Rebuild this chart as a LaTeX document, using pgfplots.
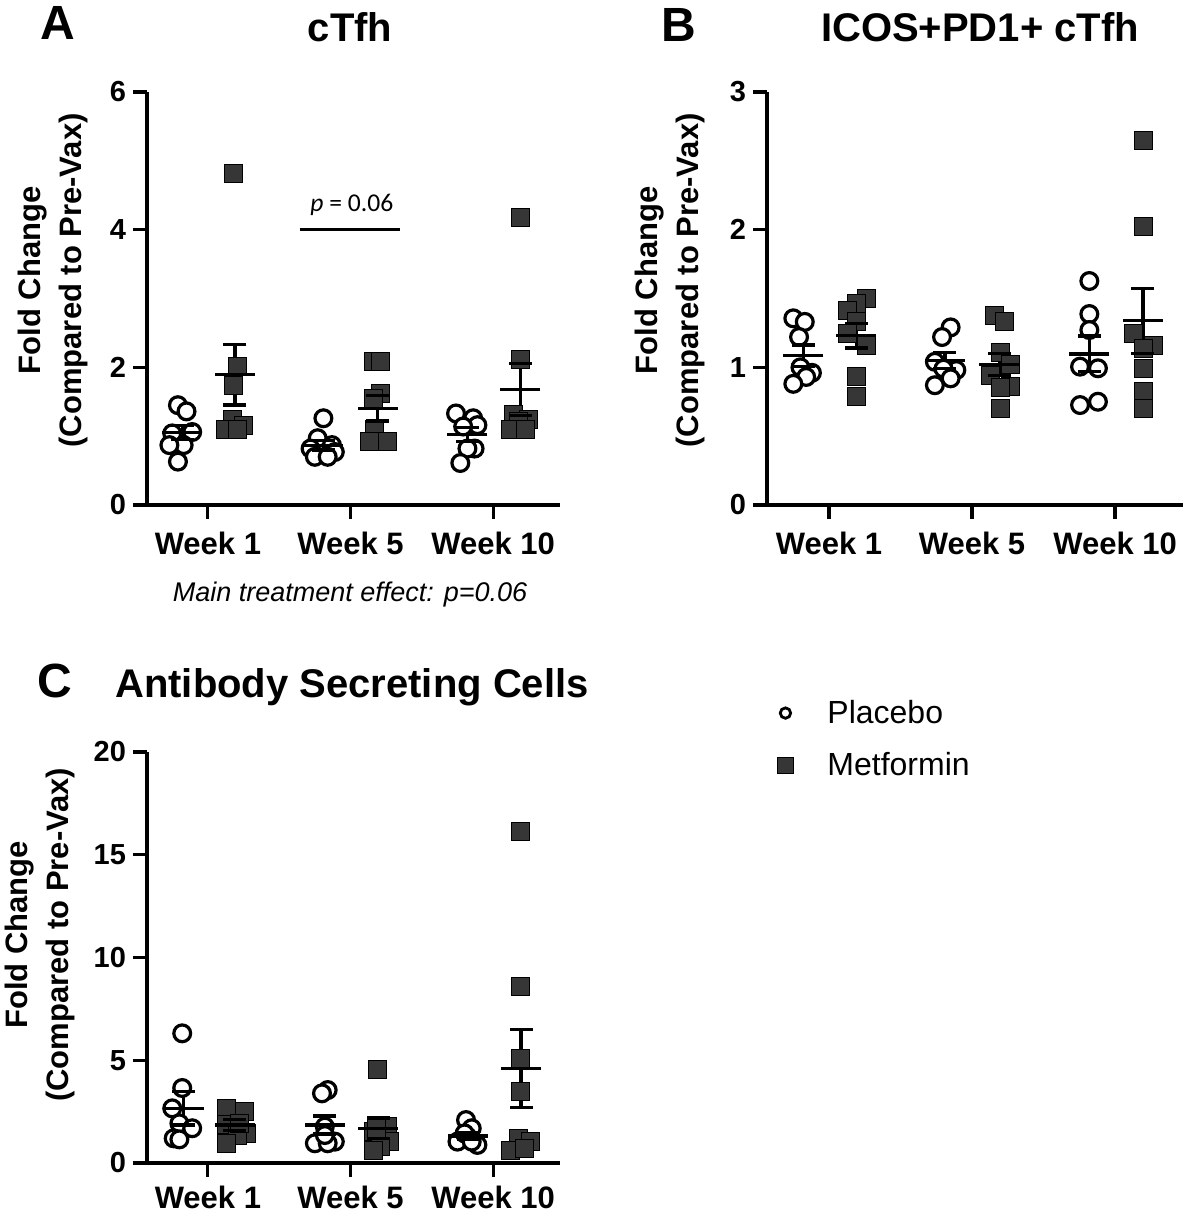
\documentclass[border=0pt]{standalone}
\usepackage{pgfplots}
\pgfplotsset{compat=1.18}
\usepackage{fontspec}
\setmainfont{Liberation Sans}
\newfontfamily\carlito{Carlito}
\definecolor{mgray}{HTML}{363636}
\pgfplotsset{
 prism/.style={
  scale only axis, axis lines*=left,
  axis line style={line width=1.6pt, black},
  tick align=outside, major tick length=7pt,
  major tick style={line width=1.6pt, black},
  xtick={0,1,2}, xticklabels={Week 1,Week 5,Week 10},
  xticklabel style={font=\fontsize{15.5}{18}\selectfont\bfseries, yshift=-3pt},
  yticklabel style={font=\fontsize{14.5}{17}\selectfont\bfseries},
  /pgf/number format/assume math mode=true,
  clip=false,
  ylabel={Fold Change\\(Compared to Pre-Vax)},
  ylabel style={font=\fontsize{15.5}{20.5}\selectfont\bfseries, align=center},
 },
 plac/.style={only marks, mark=*, mark size=4.2pt, mark options={line width=1.6pt, draw=black, fill=white}},
 metf/.style={only marks, mark=square*, mark size=4.5pt, mark options={line width=0.5pt, draw=black, fill=mgray}},
 msem/.style={only marks, mark=-, mark size=10pt, mark options={line width=1.6pt, draw=black},
   error bars/y dir=both, error bars/y explicit, error bars/error mark=none,
   error bars/error bar style={line width=1.6pt, black}},
 caps/.style={only marks, mark=-, mark size=5.75pt, mark options={line width=1.6pt, draw=black}},
}
\begin{document}
\begin{tikzpicture}
\useasboundingbox (0,0) rectangle (591.5pt,607pt);
% ---------- Panel A ----------
\begin{axis}[prism, at={(73.5pt,354.5pt)}, anchor=south west,
  width=206.5pt, height=206.5pt,
  xmin=-0.427, xmax=2.469, ymin=0, ymax=6, ytick={0,2,4,6},
  ylabel style={at={(axis description cs:-0.228,0.544)}, anchor=center}]
\addplot[plac] coordinates {(-0.21,1.45) (-0.15,1.36) (-0.11,1.06) (-0.25,1.04) (-0.17,0.87) (-0.27,0.87) (-0.21,0.63)
 (0.81,1.26) (0.77,0.97) (0.87,0.87) (0.72,0.82) (0.89,0.77) (0.75,0.70) (0.84,0.70)
 (1.74,1.33) (1.86,1.26) (1.89,1.16) (1.79,1.14) (1.87,0.82) (1.82,0.82) (1.77,0.61)};
\addplot[metf] coordinates {(0.18,4.82) (0.21,2.01) (0.18,1.74) (0.17,1.24) (0.25,1.16) (0.12,1.09) (0.21,1.09)
 (1.16,2.08) (1.21,2.08) (1.21,1.62) (1.16,1.55) (1.17,1.09) (1.13,0.92) (1.26,0.92)
 (2.19,4.18) (2.19,2.11) (2.14,1.31) (2.25,1.24) (2.18,1.21) (2.12,1.09) (2.23,1.09)};
\addplot[msem] coordinates {(-0.18,1.05) +- (0,0.10) (0.81,0.87) +- (0,0.07) (1.82,1.02) +- (0,0.10)};
\addplot[caps] coordinates {(-0.18,0.95) (-0.18,1.15) (0.81,0.80) (0.81,0.94) (1.82,0.92) (1.82,1.12)};
\addplot[msem] coordinates {(0.19,1.89) +- (0,0.436) (1.19,1.405) +- (0,0.185) (2.19,1.68) +- (0,0.38)};
\addplot[caps] coordinates {(0.19,1.454) (0.19,2.326) (1.19,1.22) (1.19,1.59) (2.19,1.30) (2.19,2.06)};
\draw[line width=1.5pt] (axis cs:0.644,4) -- (axis cs:1.35,4);
\node[anchor=base, font=\carlito\fontsize{12.8}{15}\selectfont] at (axis cs:1.01,4.26) {\textit{p} = 0.06};
\end{axis}
% ---------- Panel B ----------
\begin{axis}[prism, at={(383.5pt,354.5pt)}, anchor=south west,
  width=208pt, height=206.5pt,
  xmin=-0.434, xmax=2.475, ymin=0, ymax=3, ytick={0,1,2,3},
  ylabel style={at={(axis description cs:-0.233,0.544)}, anchor=center}]
\addplot[plac] coordinates {(-0.25,1.356) (-0.17,1.33) (-0.21,1.22) (-0.20,1.00) (-0.12,0.96) (-0.16,0.93) (-0.25,0.88)
 (0.85,1.29) (0.79,1.22) (0.74,1.04) (0.89,0.98) (0.80,0.99) (0.85,0.92) (0.74,0.87)
 (1.82,1.627) (1.82,1.387) (1.82,1.271) (1.755,1.005) (1.88,0.993) (1.755,0.726) (1.88,0.75)};
\addplot[metf] coordinates {(0.26,1.50) (0.19,1.465) (0.13,1.416) (0.19,1.33) (0.13,1.247) (0.26,1.162) (0.19,0.93) (0.19,0.787)
 (1.16,1.38) (1.23,1.33) (1.20,1.11) (1.27,1.02) (1.13,0.944) (1.27,0.86) (1.20,0.85) (1.20,0.70)
 (2.20,2.651) (2.20,2.022) (2.13,1.247) (2.27,1.155) (2.20,1.138) (2.20,0.993) (2.20,0.823) (2.20,0.702)};
\addplot[msem] coordinates {(-0.18,1.084) +- (0,0.078) (0.81,1.05) +- (0,0.06) (1.82,1.097) +- (0,0.13)};
\addplot[caps] coordinates {(-0.18,1.006) (-0.18,1.162) (0.81,0.99) (0.81,1.11) (1.82,0.967) (1.82,1.227)};
\addplot[msem] coordinates {(0.19,1.23) +- (0,0.09) (1.19,1.02) +- (0,0.08) (2.195,1.339) +- (0,0.236)};
\addplot[caps] coordinates {(0.19,1.14) (0.19,1.32) (1.19,0.94) (1.19,1.10) (2.195,1.103) (2.195,1.575)};
\end{axis}
% ---------- Panel C ----------
\begin{axis}[prism, at={(73.5pt,25.5pt)}, anchor=south west,
  width=206.5pt, height=205.5pt,
  xmin=-0.427, xmax=2.469, ymin=0, ymax=20, ytick={0,5,10,15,20},
  xticklabel style={yshift=2pt},
  ylabel style={at={(axis description cs:-0.259,0.555)}, anchor=center},
  legend style={draw=none, fill=none, at={(axis description cs:1.511,1.147)}, anchor=north west,
    font=\fontsize{16}{19}\selectfont, row sep=9pt},
  legend cell align=left]
\addlegendimage{legend image code/.code={\path[draw=none, fill=none] (-4pt,0pt) -- (19pt,0pt);
   \draw plot[only marks, mark=*, mark size=2.6pt, mark options={line width=1.4pt, draw=black, fill=white}] coordinates {(0pt,0pt)};}}
\addlegendimage{legend image code/.code={\path[draw=none, fill=none] (-4pt,0pt) -- (19pt,0pt);
   \draw plot[only marks, mark=square*, mark size=4pt, mark options={line width=0.5pt, draw=black, fill=mgray}] coordinates {(0pt,0pt)};}}
\addplot[forget plot, plac] coordinates {(-0.18,6.31) (-0.18,3.65) (-0.25,2.66) (-0.20,1.93) (-0.11,1.69) (-0.24,1.20) (-0.20,1.15)
 (0.84,3.55) (0.80,3.39) (0.82,1.77) (0.75,0.96) (0.89,1.04) (0.84,0.96) (0.82,1.36)
 (1.81,2.09) (1.85,1.69) (1.82,1.28) (1.75,1.04) (1.89,0.88) (1.80,1.44) (1.85,1.04)};
\addplot[forget plot, metf] coordinates {(0.13,2.66) (0.26,2.50) (0.13,1.85) (0.27,1.44) (0.21,1.36) (0.13,0.96) (0.22,1.93)
 (1.19,4.53) (1.26,1.77) (1.16,1.52) (1.27,1.04) (1.21,0.79) (1.16,0.63) (1.18,1.69)
 (2.19,16.12) (2.19,8.58) (2.19,5.09) (2.19,3.47) (2.18,1.20) (2.26,1.04) (2.12,0.63) (2.22,0.72)};
\addplot[forget plot, msem] coordinates {(-0.17,2.66) +- (0,0.81) (0.82,1.85) +- (0,0.44) (1.825,1.31) +- (0,0.17)};
\addplot[forget plot, caps] coordinates {(-0.17,1.85) (-0.17,3.47) (0.82,1.41) (0.82,2.29) (1.825,1.14) (1.825,1.48)};
\addplot[forget plot, msem] coordinates {(0.19,1.85) +- (0,0.25) (1.195,1.69) +- (0,0.5) (2.196,4.61) +- (0,1.9)};
\addplot[forget plot, caps] coordinates {(0.19,1.60) (0.19,2.10) (1.195,1.19) (1.195,2.19) (2.196,2.71) (2.196,6.51)};
\legend{Placebo, Metformin}
\end{axis}
% ---------- Headers ----------
\node[anchor=base west, font=\fontsize{24}{28}\selectfont\bfseries] at (16.5pt,587pt) {A};
\node[anchor=base, font=\fontsize{20}{24}\selectfont\bfseries] at (175pt,586pt) {cTfh};
\node[anchor=base west, font=\fontsize{24}{28}\selectfont\bfseries] at (327pt,586pt) {B};
\node[anchor=base, font=\fontsize{20}{24}\selectfont\bfseries] at (490pt,586pt) {ICOS+PD1+ cTfh};
\node[anchor=base west, font=\fontsize{24}{28}\selectfont\bfseries] at (15pt,258pt) {C};
\node[anchor=base, font=\fontsize{20}{24}\selectfont\bfseries] at (176pt,258pt) {Antibody Secreting Cells};
\node[anchor=base, font=\fontsize{13.5}{16}\selectfont\itshape] at (175pt,306pt) {Main treatment effect: p=0.06};
\end{tikzpicture}
\end{document}
